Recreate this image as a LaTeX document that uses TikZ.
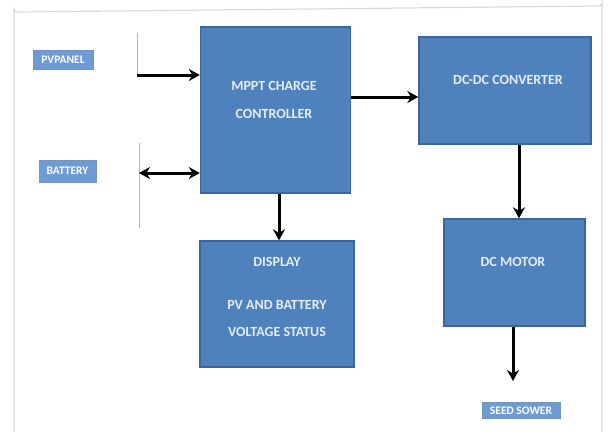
\documentclass[tikz,border=0pt]{standalone}
\usepackage{fontspec}
\setmainfont{Carlito}
\usetikzlibrary{arrows.meta}
\definecolor{boxblue}{HTML}{4F81BD}
\definecolor{boxedge}{HTML}{3A6699}
\definecolor{lblblue}{HTML}{6E9BD6}
\definecolor{txtw}{HTML}{E4EDF8}
\tikzset{
  blk/.style={draw=boxedge, line width=1.4pt, fill=boxblue, inner sep=0pt},
  txt/.style={text=txtw, font=\fontsize{14}{15}\selectfont\bfseries, inner sep=0pt},
  lbl/.style={draw=boxedge!70, fill=lblblue, text=white, font=\fontsize{11.5}{12}\selectfont\bfseries, inner sep=0pt},
  arr/.style={line width=3pt, -{Stealth[length=11pt,width=12pt]}},
  darr/.style={line width=3pt, {Stealth[length=11pt,width=12pt]}-{Stealth[length=11pt,width=12pt]}},
  vline/.style={draw=gray!55, line width=0.8pt}
}
\begin{document}
\begin{tikzpicture}[x=1pt,y=-1pt]
\useasboundingbox (0,0) rectangle (613,432);
% faint frame
\draw[gray!30, line width=1.2pt] (14,432) -- (14,9) arc[start angle=180,end angle=90,radius=3] -- (599,6) arc[start angle=90,end angle=0,radius=3] -- (602,432);
% blocks
\node[blk, minimum width=150pt, minimum height=166pt] (mppt) at (275.5,110) {};
\node[blk, minimum width=172pt, minimum height=107pt] (dcdc) at (505,90.5) {};
\node[blk, minimum width=154pt, minimum height=126pt] (disp) at (277,304) {};
\node[blk, minimum width=141pt, minimum height=107pt] (motor) at (514.5,272.5) {};
% block texts
\node[txt] (t1) at (274,86) {MPPT CHARGE};
\node[txt] (t2) at (274,114) {CONTROLLER};
\node[txt] (t3) at (508,80) {DC-DC CONVERTER};
\node[txt] (t4) at (277,262) {DISPLAY};
\node[txt] (t5) at (277,305) {PV AND BATTERY};
\node[txt] (t6) at (277,332) {VOLTAGE STATUS};
\node[txt] (t7) at (513,262) {DC MOTOR};
% side labels
\node[lbl, minimum width=60pt, minimum height=19pt] (pv) at (63,59.5) {PVPANEL};
\node[lbl, minimum width=57pt, minimum height=22pt] (bat) at (67.5,171) {BATTERY};
\node[lbl, minimum width=78pt, minimum height=16pt] (load) at (521,410.5) {SEED SOWER};
% thin vertical lines
\coordinate (l1a) at (137,33);
\coordinate (l1b) at (137,77);
\coordinate (l2a) at (139,143);
\coordinate (l2b) at (139,228);
\draw[vline] (l1a) -- (l1b);
\draw[vline] (l2a) -- (l2b);
% connectors
\coordinate (pvs) at (137,75);
\coordinate (bts) at (139,173);
\coordinate (c1) at (351,97);
\coordinate (ax) at (279,0);
\coordinate (bx) at (519,0);
\coordinate (out) at (513,381);
\draw[arr] (pvs) -- (pvs -| mppt.west);
\draw[darr] (bts) -- (bts -| mppt.west);
\draw[arr] (c1 -| mppt.east) -- (c1 -| dcdc.west);
\draw[arr] (ax |- mppt.south) -- (ax |- disp.north);
\draw[arr] (bx |- dcdc.south) -- (bx |- motor.north);
\draw[arr] (out |- motor.south) -- (out);
\end{tikzpicture}
\end{document}
